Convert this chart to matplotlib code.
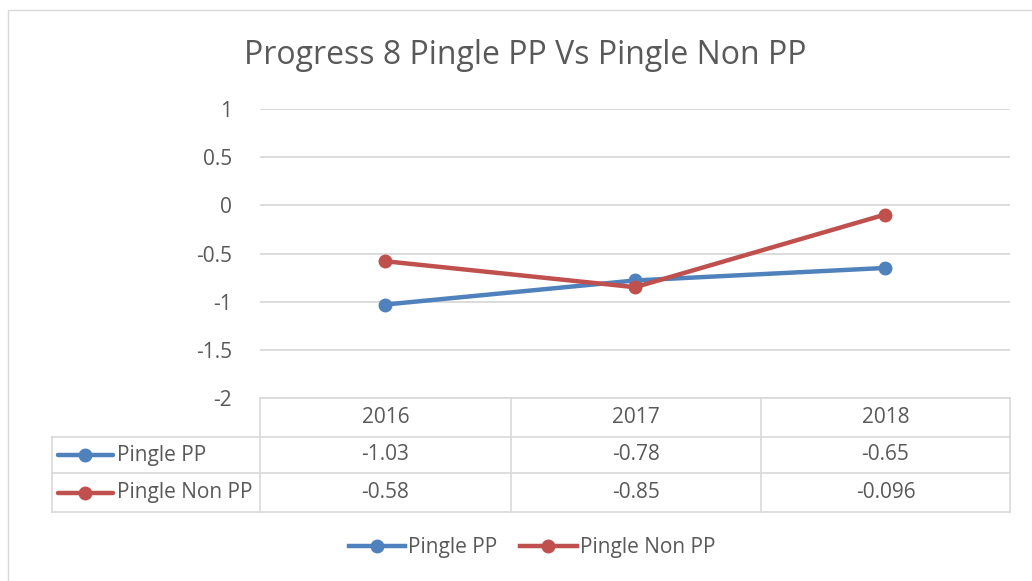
import matplotlib
matplotlib.use('Agg')
import matplotlib.pyplot as plt
from matplotlib.lines import Line2D
from matplotlib.patches import Rectangle

# chart data
years = ['2016', '2017', '2018']
pingle_pp = [-1.03, -0.78, -0.65]
pingle_non_pp = [-0.58, -0.85, -0.096]
pp_labels = ['-1.03', '-0.78', '-0.65']
non_pp_labels = ['-0.58', '-0.85', '-0.096']
y_ticks = [1, 0.5, 0, -0.5, -1, -1.5, -2]
y_tick_labels = ['1', '0.5', '0', '-0.5', '-1', '-1.5', '-2']

BLUE = '#4f81bd'
RED = '#c0504d'
TEXT = '#595959'
GRID = '#d9d9d9'
FONT = ['Open Sans', 'DejaVu Sans']
FS = 15
plt.rcParams['font.family'] = FONT

W, H = 1032, 581
fig = plt.figure(figsize=(W / 100, H / 100), dpi=100)


def fx(px):
    return px / W


def fy(py):
    return 1 - py / H


# outer chart border (runs off right/bottom like the screenshot)
fig.patches.append(Rectangle((fx(8), fy(600)), fx(1100), fy(10) - fy(600),
                             transform=fig.transFigure, fill=False,
                             edgecolor=GRID, linewidth=1))

fig.text(fx(525), fy(56), 'Progress 8 Pingle PP Vs Pingle Non PP',
         ha='center', va='center', fontsize=23, color=TEXT)

# main plot area
ax = fig.add_axes([fx(260), fy(398), fx(1010) - fx(260), fy(109) - fy(398)])
x = list(range(len(years)))
ax.plot(x, pingle_pp, color=BLUE, linewidth=3.2, marker='o', markersize=9, zorder=3)
ax.plot(x, pingle_non_pp, color=RED, linewidth=3.2, marker='o', markersize=9, zorder=3)
ax.set_xlim(-0.5, len(years) - 0.5)
ax.set_ylim(-2, 1)
ax.set_yticks(y_ticks)
ax.set_yticklabels(y_tick_labels)
ax.set_xticks([])
ax.tick_params(axis='y', length=0, pad=20, labelsize=FS, labelcolor=TEXT)
ax.grid(axis='y', color=GRID, linewidth=1.3)
ax.set_axisbelow(True)
for s in ax.spines.values():
    s.set_visible(False)

# data table below the plot, drawn in pixel coordinates
tb = fig.add_axes([fx(52), fy(512), fx(1010) - fx(52), fy(398) - fy(512)])
tb.set_xlim(52, 1010)
tb.set_ylim(512, 398)
tb.axis('off')

col_edges = [260, 511, 761, 1010]
row_edges = [398, 437, 473, 512]
lw = 1.2
# horizontal lines
tb.plot([260, 1010], [row_edges[0]] * 2, color=GRID, lw=lw, clip_on=False)
for r in row_edges[1:]:
    tb.plot([52, 1010], [r, r], color=GRID, lw=lw, clip_on=False)
# vertical lines
tb.plot([52, 52], [row_edges[1], row_edges[3]], color=GRID, lw=lw, clip_on=False)
for c in col_edges:
    tb.plot([c, c], [row_edges[0], row_edges[3]], color=GRID, lw=lw, clip_on=False)

centers = [(col_edges[i] + col_edges[i + 1]) / 2 for i in range(len(years))]
rows = [(years, None, None),
        (pp_labels, 'Pingle PP', BLUE),
        (non_pp_labels, 'Pingle Non PP', RED)]
for i, (cells, name, color) in enumerate(rows):
    yc = (row_edges[i] + row_edges[i + 1]) / 2
    for cx, txt in zip(centers, cells):
        tb.text(cx, yc, txt, ha='center', va='center', fontsize=FS, color=TEXT)
    if name:
        tb.plot([58, 113], [yc, yc], color=color, lw=3.2, solid_capstyle='round')
        tb.plot([85.5], [yc], color=color, marker='o', markersize=9)
        tb.text(117, yc, name, ha='left', va='center', fontsize=FS, color=TEXT)

# legend at the bottom
handles = [Line2D([], [], color=BLUE, lw=3.2, marker='o', markersize=9),
           Line2D([], [], color=RED, lw=3.2, marker='o', markersize=9)]
leg = fig.legend(handles, ['Pingle PP', 'Pingle Non PP'], loc='center',
                 bbox_to_anchor=(fx(532), fy(548)), ncol=2, frameon=False,
                 fontsize=FS, handlelength=2.7, handletextpad=0.15,
                 columnspacing=1.1, labelcolor=TEXT)

fig.savefig('out.png', dpi=100)
